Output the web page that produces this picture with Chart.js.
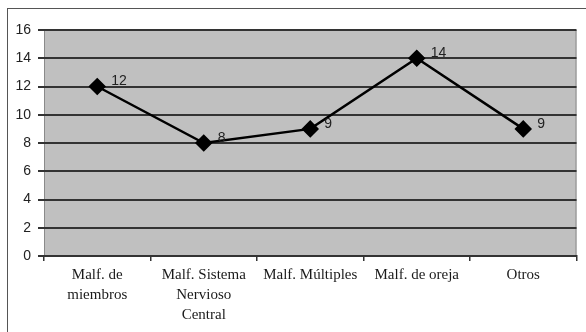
<!DOCTYPE html>
<html>
<head>
<meta charset="utf-8">
<script src="https://cdn.jsdelivr.net/npm/chart.js@4"></script>
<style>
  body { margin: 0; background: #fff; }
  #wrap { position: relative; width: 586px; height: 332px; overflow: hidden; }
  #frame { position: absolute; left: 7px; top: 8px; width: 590px; height: 400px; border: 1px solid #555; box-sizing: border-box; }
  canvas { position: absolute; left: 0; top: 0; }
</style>
</head>
<body>
<div id="wrap">
  <div id="frame"></div>
  <canvas id="chart" width="586" height="332"></canvas>
</div>
<script>
var categories = [
    ["Malf. de", "miembros"],
    ["Malf. Sistema", "Nervioso", "Central"],
    "Malf. Múltiples",
    "Malf. de oreja",
    "Otros"
];
var values = [12, 8, 9, 14, 9];
var yTicks = [0, 2, 4, 6, 8, 10, 12, 14, 16];

// plot background + point labels
var plotBack = {
    id: "plotBack",
    beforeDraw: function (chart) {
        var a = chart.chartArea;
        var ctx = chart.ctx;
        ctx.save();
        ctx.fillStyle = "#c0c0c0";
        ctx.fillRect(a.left, a.top, a.right - a.left, a.bottom - a.top);
        ctx.strokeStyle = "#8a8a8a";
        ctx.lineWidth = 1;
        ctx.strokeRect(a.left + 0.5, a.top + 0.5, a.right - a.left - 1, a.bottom - a.top);
        ctx.restore();
    },
    afterDatasetsDraw: function (chart) {
        var ctx = chart.ctx;
        var meta = chart.getDatasetMeta(0);
        ctx.save();
        ctx.fillStyle = "#222";
        ctx.font = "14px 'Liberation Sans', Arial, sans-serif";
        ctx.textAlign = "left";
        ctx.textBaseline = "middle";
        meta.data.forEach(function (pt, i) {
            ctx.fillText(String(values[i]), pt.x + 14, pt.y - 5);
        });
        ctx.restore();
    }
};

var ctx = document.getElementById("chart").getContext("2d");
var graph = new Chart(ctx, {
    type: "line",
    data: {
        labels: categories,
        datasets: [{
            data: values,
            borderColor: "#000",
            borderWidth: 2.5,
            pointStyle: "rectRot",
            pointRadius: 7,
            pointBackgroundColor: "#000",
            pointBorderColor: "#000",
            tension: 0
        }]
    },
    options: {
        responsive: false,
        animation: false,
        layout: { padding: { left: 0, top: 30, right: 7, bottom: 0 } },
        plugins: {
            legend: { display: false },
            tooltip: { enabled: false }
        },
        scales: {
            x: {
                offset: true,
                afterFit: function (s) { s.height = 76; },
                grid: {
                    offset: true,
                    drawOnChartArea: false,
                    drawTicks: true,
                    tickLength: 5,
                    color: "#333",
                    lineWidth: 1.5
                },
                border: { display: true, color: "#333", width: 2 },
                ticks: {
                    color: "#1a1a1a",
                    padding: 4,
                    maxRotation: 0,
                    autoSkip: false,
                    font: { family: "'Liberation Serif', 'Times New Roman', serif", size: 15, lineHeight: 1.33 }
                }
            },
            y: {
                min: 0,
                max: 16,
                afterFit: function (s) { s.width = 44; },
                afterBuildTicks: function (s) {
                    s.ticks = yTicks.map(function (v) { return { value: v }; });
                },
                grid: {
                    color: "#333",
                    lineWidth: 2,
                    tickLength: 6
                },
                border: { display: false },
                ticks: {
                    color: "#222",
                    padding: 7,
                    font: { family: "'Liberation Sans', Arial, sans-serif", size: 14 }
                }
            }
        }
    },
    plugins: [plotBack]
});
</script>
</body>
</html>
